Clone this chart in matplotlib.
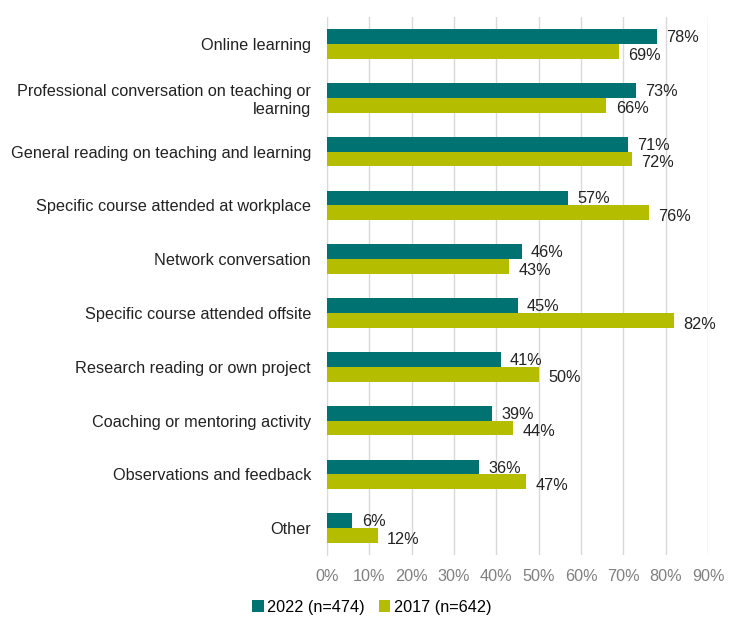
import matplotlib
matplotlib.use("Agg")
import matplotlib.pyplot as plt
import numpy as np
from matplotlib.ticker import FuncFormatter

plt.rcParams['font.family'] = ['Liberation Sans', 'DejaVu Sans']

categories = ["Online learning",
              "Professional conversation on teaching or\nlearning",
              "General reading on teaching and learning",
              "Specific course attended at workplace",
              "Network conversation",
              "Specific course attended offsite",
              "Research reading or own project",
              "Coaching or mentoring activity",
              "Observations and feedback",
              "Other"]
v2022 = [78, 73, 71, 57, 46, 45, 41, 39, 36, 6]
v2017 = [69, 66, 72, 76, 43, 82, 50, 44, 47, 12]
series_names = ["2022 (n=474)", "2017 (n=642)"]
colors = ["#007272", "#b5bd00"]

fs = 11.7
fig = plt.figure(figsize=(7.36, 6.3), dpi=100)
ax = fig.add_axes([0.4443, 0.119, 0.5177, 0.854])

y = np.arange(len(categories))
h = 0.275
b1 = ax.barh(y - h/2, v2022, height=h, color=colors[0], label=series_names[0], zorder=3)
b2 = ax.barh(y + h/2, v2017, height=h, color=colors[1], label=series_names[1], zorder=3)

for rect, v in zip(b1, v2022):
    ax.text(v + 2.2, rect.get_y() + rect.get_height()/2 + 0.02, f"{v}%", va='center', ha='left',
            fontsize=fs, color='#222222')
for rect, v in zip(b2, v2017):
    ax.text(v + 2.2, rect.get_y() + rect.get_height()/2 + 0.07, f"{v}%", va='center', ha='left',
            fontsize=fs, color='#222222')

ax.set_xlim(0, 90)
ax.set_ylim(len(categories) - 0.5, -0.5)
ax.set_xticks(np.arange(0, 91, 10))
ax.xaxis.set_major_formatter(FuncFormatter(lambda v, p: f"{int(v)}%"))
ax.set_yticks(y)
ax.set_yticklabels(categories, fontsize=fs, color='#222222')
ax.tick_params(axis='x', labelsize=fs, labelcolor='#808080', length=0, pad=10)
ax.tick_params(axis='y', length=0, pad=11.5)
ax.grid(axis='x', color='#d9d9d9', linewidth=1, zorder=0)
for s in ['top', 'right', 'bottom']:
    ax.spines[s].set_visible(False)
ax.spines['left'].set_color('#d9d9d9')

fig.legend(handles=[b1, b2], labels=series_names, loc='center', bbox_to_anchor=(0.505, 0.036),
           ncol=2, frameon=False, fontsize=fs, handlelength=0.7, handleheight=0.7,
           handletextpad=0.2, columnspacing=0.9)

fig.savefig("out.png", dpi=100)
